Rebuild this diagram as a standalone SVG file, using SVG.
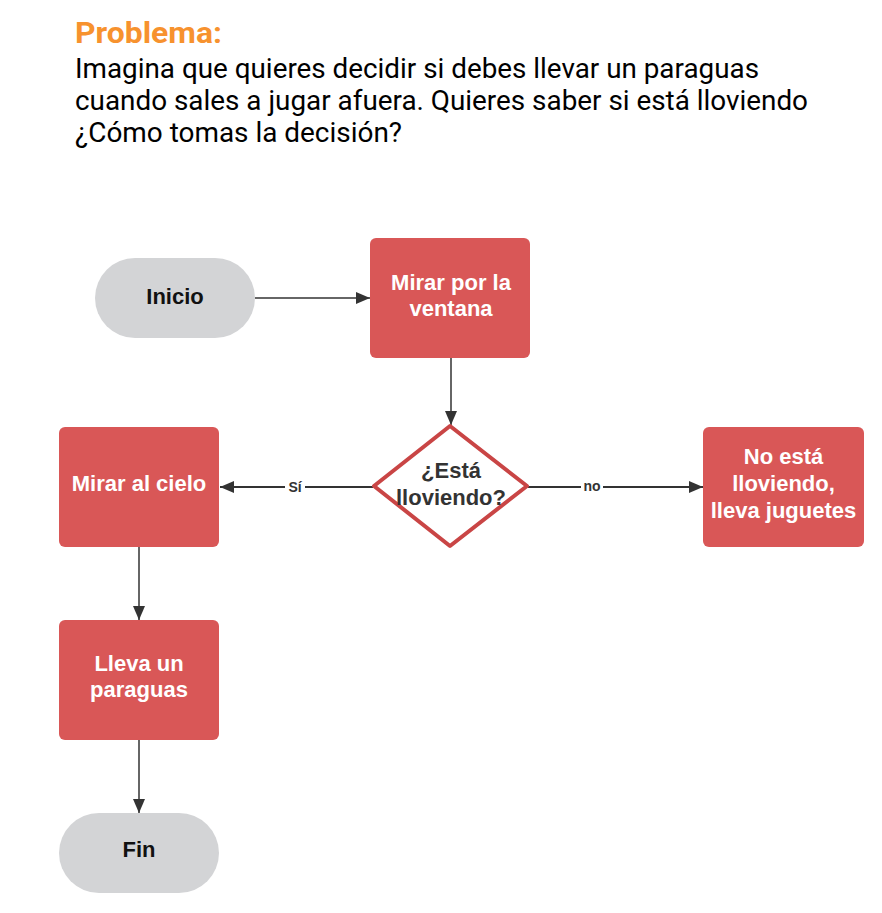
<svg xmlns="http://www.w3.org/2000/svg" width="882" height="913" viewBox="0 0 882 913">
<defs>
<marker id="arr" viewBox="0 0 14 12" refX="14" refY="6" markerWidth="14" markerHeight="12" markerUnits="userSpaceOnUse" orient="auto">
<path d="M0,0 L14,6 L0,12 Z" fill="#333333"/>
</marker>
</defs>
<style>
.title{font-family:Roboto,"Liberation Sans",sans-serif;font-weight:bold;font-size:30px;fill:#F7922E}
.body{font-family:Roboto,"Liberation Sans",sans-serif;font-size:27px;fill:#000000}
.proc{fill:#D95757}
.term{fill:#D3D4D6}
.wt{font-family:"Liberation Sans",Arial,sans-serif;font-weight:bold;font-size:22px;fill:#FFFFFF;text-anchor:middle}
.bt{font-family:"Liberation Sans",Arial,sans-serif;font-weight:bold;font-size:22px;fill:#111111;text-anchor:middle}
.dt{font-family:"Liberation Sans",Arial,sans-serif;font-weight:bold;font-size:22px;fill:#333333;text-anchor:middle}
.conn{stroke:#333333;stroke-width:1.5;fill:none;marker-end:url(#arr)}
.conn2{stroke:#333333;stroke-width:2;fill:none;marker-end:url(#arr)}
.lbl{font-family:"Liberation Sans",Arial,sans-serif;font-weight:bold;font-size:14px;fill:#333333;text-anchor:middle}
</style>
<rect width="882" height="913" fill="#FFFFFF"/>
<g id="header">
<text class="title" x="75" y="43" textLength="147" lengthAdjust="spacingAndGlyphs">Problema:</text>
<text class="body" x="75" y="78" textLength="684" lengthAdjust="spacingAndGlyphs">Imagina que quieres decidir si debes llevar un paraguas</text>
<text class="body" x="75" y="110" textLength="733" lengthAdjust="spacingAndGlyphs">cuando sales a jugar afuera. Quieres saber si está lloviendo</text>
<text class="body" x="75" y="142" textLength="327" lengthAdjust="spacingAndGlyphs">¿Cómo tomas la decisión?</text>
</g>
<g id="connectors">
<line class="conn" x1="255" y1="298" x2="370" y2="298"/>
<line class="conn" x1="451" y1="358" x2="451" y2="425"/>
<line class="conn2" x1="373" y1="487" x2="220" y2="487"/>
<line class="conn2" x1="528" y1="487" x2="703" y2="487"/>
<line class="conn" x1="139" y1="547" x2="139" y2="620"/>
<line class="conn" x1="139" y1="740" x2="139" y2="813"/>
<rect x="285" y="478" width="20" height="17" fill="#FFFFFF"/>
<text class="lbl" x="295" y="492">Sí</text>
<rect x="581" y="478" width="22" height="17" fill="#FFFFFF"/>
<text class="lbl" x="592" y="491">no</text>
</g>
<g id="inicio">
<rect class="term" x="95" y="258" width="160" height="80" rx="40" ry="40"/>
<text class="bt" x="175" y="304">Inicio</text>
</g>
<g id="mirar-ventana">
<rect class="proc" x="370" y="238" width="160" height="120" rx="6" ry="6"/>
<text class="wt" x="451" y="290">Mirar por la</text>
<text class="wt" x="451" y="316">ventana</text>
</g>
<g id="decision">
<polygon points="450,426 527,486 450,546 374,486" fill="#FFFFFF" stroke="#C94545" stroke-width="4" stroke-linejoin="round"/>
<text class="dt" x="451" y="478">¿Está</text>
<text class="dt" x="451" y="505">lloviendo?</text>
</g>
<g id="mirar-cielo">
<rect class="proc" x="59" y="427" width="160" height="120" rx="6" ry="6"/>
<text class="wt" x="139" y="491">Mirar al cielo</text>
</g>
<g id="no-llueve">
<rect class="proc" x="703" y="427" width="161" height="120" rx="6" ry="6"/>
<text class="wt" x="783.5" y="464">No está</text>
<text class="wt" x="783.5" y="491">lloviendo,</text>
<text class="wt" x="783.5" y="518">lleva juguetes</text>
</g>
<g id="lleva-paraguas">
<rect class="proc" x="59" y="620" width="160" height="120" rx="6" ry="6"/>
<text class="wt" x="139" y="671">Lleva un</text>
<text class="wt" x="139" y="697">paraguas</text>
</g>
<g id="fin">
<rect class="term" x="59" y="813" width="160" height="80" rx="40" ry="40"/>
<text class="bt" x="139" y="857">Fin</text>
</g>
</svg>
